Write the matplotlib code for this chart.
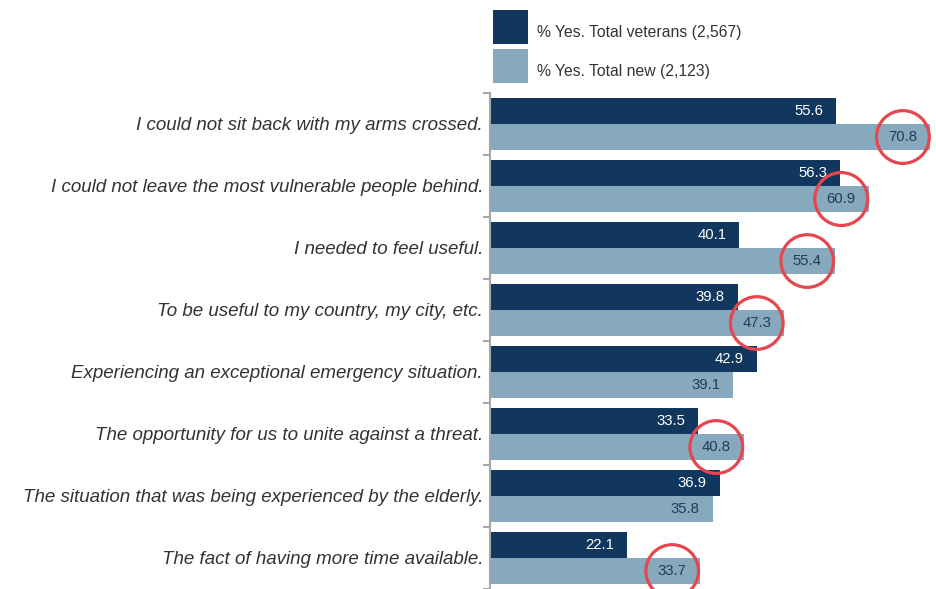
import numpy as np
import matplotlib
matplotlib.use('Agg')
import matplotlib.pyplot as plt
from matplotlib.ticker import FixedLocator

plt.rcParams['font.family'] = ['Liberation Sans', 'DejaVu Sans']

categories = [
    'I could not sit back with my arms crossed.',
    'I could not leave the most vulnerable people behind.',
    'I needed to feel useful.',
    'To be useful to my country, my city, etc.',
    'Experiencing an exceptional emergency situation.',
    'The opportunity for us to unite against a threat.',
    'The situation that was being experienced by the elderly.',
    'The fact of having more time available.',
]
veterans = [55.6, 56.3, 40.1, 39.8, 42.9, 33.5, 36.9, 22.1]
new = [70.8, 60.9, 55.4, 47.3, 39.1, 40.8, 35.8, 33.7]
series_names = ['% Yes. Total veterans (2,567)', '% Yes. Total new (2,123)']

DARK = '#12375e'
LIGHT = '#86a9bd'
RED = '#e8464f'
GREY = '#a6a6a6'

W, H = 936, 589
fig = plt.figure(figsize=(W / 100, H / 100), dpi=100)
ax = fig.add_axes([490 / W, 0, 446 / W, 496 / H])

y = np.arange(len(categories))
h = 0.42
b1 = ax.barh(y - h / 2, veterans, height=h, color=DARK, label=series_names[0])
b2 = ax.barh(y + h / 2, new, height=h, color=LIGHT, label=series_names[1])

ax.set_xlim(0, 71.7)
ax.set_ylim(len(categories) - 0.5, -0.5)
ax.set_xticks([])
ax.set_yticks(y)
ax.set_yticklabels(categories, fontsize=13.5, style='italic', color='#333333')
ax.tick_params(axis='y', which='major', length=0, pad=5)
ax.yaxis.set_minor_locator(FixedLocator(np.arange(-0.5, len(categories), 1)))
ax.tick_params(axis='y', which='minor', length=5, width=1.5, color=GREY, direction='out')
for s in ['top', 'right', 'bottom']:
    ax.spines[s].set_visible(False)
ax.spines['left'].set_color(GREY)
ax.spines['left'].set_linewidth(1.5)

# value labels inside the bar ends
for bar, v in zip(b1, veterans):
    ax.annotate(f'{v:.1f}', (v, bar.get_y() + bar.get_height() / 2),
                xytext=(-13, 0), textcoords='offset pixels',
                ha='right', va='center', color='white', fontsize=10.7)

# circle the new-volunteer values that beat the veterans
for bar, v, old in zip(b2, new, veterans):
    kw = {}
    if v > old:
        kw['bbox'] = dict(boxstyle='circle,pad=0.8', fc='none', ec=RED, lw=2.3)
    ax.annotate(f'{v:.1f}', (v, bar.get_y() + bar.get_height() / 2),
                xytext=(-13, 0), textcoords='offset pixels',
                ha='right', va='center', color='#1f3d5c', fontsize=10.7, **kw)

leg = fig.legend(handles=[b1, b2], loc='upper left',
                 bbox_to_anchor=(493 / W, 1 - 10 / H), bbox_transform=fig.transFigure,
                 frameon=False, fontsize=11.3, labelcolor='#333333',
                 handlelength=2.23, handleheight=2.96, labelspacing=0.32,
                 handletextpad=0.57, borderpad=0, borderaxespad=0)
# sit the legend text a little lower against the swatches
for t in leg.get_texts():
    t.set_y(-5)

fig.savefig('out.png', dpi=100)
